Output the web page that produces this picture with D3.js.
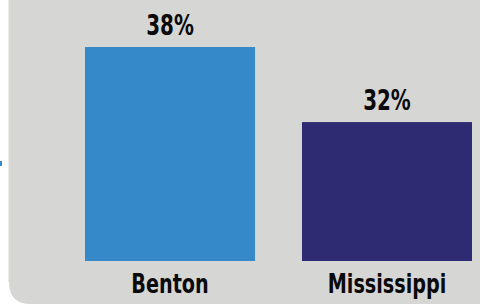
<!DOCTYPE html>
<html>
<head>
<meta charset="utf-8">
<script src="https://cdn.jsdelivr.net/npm/d3@7"></script>
<style>
	body { margin: 0; background: #fff; }
	svg { display: block; }
</style>
</head>
<body>
<div id="chart"></div>
<script>
	//Data
	var categories = ["Benton", "Mississippi"];
	var values = [38, 32];
	var valueLabels = ["38%", "32%"];
	var colors = ["#3589c9", "#2e2b73"];

	//Width and height
	var w = 480;
	var h = 305;
	//Squeeze factor to imitate a condensed bold face
	var squeeze = 0.79;

	var svg = d3.select("#chart")
		.append("svg")
		.attr("width", w)
		.attr("height", h);

	//Grey panel with rounded bottom-left corner
	svg.append("path")
		.attr("d", "M9,-5 H485 V304 H31 Q9,304 9,282 Z")
		.attr("fill", "#d6d6d5");

	svg.append("line")
		.attr("x1", 8.5).attr("x2", 8.5)
		.attr("y1", 0).attr("y2", 282)
		.attr("stroke", "#ececec")
		.attr("stroke-width", 1);

	//Small cut-off marker on the left edge
	svg.append("rect")
		.attr("x", 0).attr("y", 161)
		.attr("width", 2).attr("height", 5)
		.attr("fill", "#3589c9");

	//Scales
	var xScale = d3.scaleBand()
		.domain(categories)
		.range([85, 472])
		.paddingInner(0.2165)
		.paddingOuter(0);

	var yScale = d3.scaleLinear()
		.domain([20.9, 38])
		.range([261, 47]);

	var data = categories.map(function (c, i) {
		return { name: c, value: values[i], label: valueLabels[i], color: colors[i] };
	});

	//Bars
	svg.selectAll("rect.bar")
		.data(data)
		.enter()
		.append("rect")
		.attr("class", "bar")
		.attr("x", function (d) { return xScale(d.name); })
		.attr("y", function (d) { return yScale(d.value); })
		.attr("width", xScale.bandwidth())
		.attr("height", function (d) { return yScale.range()[0] - yScale(d.value); })
		.attr("fill", function (d) { return d.color; });

	var font = "'Liberation Sans Narrow', 'DejaVu Sans Condensed', sans-serif";

	function condense(sel) {
		sel.each(function () {
			var len = this.getComputedTextLength();
			d3.select(this)
				.attr("textLength", len * squeeze)
				.attr("lengthAdjust", "spacingAndGlyphs");
		});
	}

	//Value labels
	svg.selectAll("text.val")
		.data(data)
		.enter()
		.append("text")
		.attr("class", "val")
		.attr("text-anchor", "middle")
		.attr("x", function (d) { return xScale(d.name) + xScale.bandwidth() / 2; })
		.attr("y", function (d) { return yScale(d.value) - 12; })
		.attr("font-family", font)
		.attr("font-weight", "bold")
		.attr("font-size", "28px")
		.attr("fill", "#0a0a0a")
		.text(function (d) { return d.label; })
		.call(condense);

	//Category labels
	svg.selectAll("text.cat")
		.data(data)
		.enter()
		.append("text")
		.attr("class", "cat")
		.attr("text-anchor", "middle")
		.attr("x", function (d) { return xScale(d.name) + xScale.bandwidth() / 2; })
		.attr("y", 293)
		.attr("font-family", font)
		.attr("font-weight", "bold")
		.attr("font-size", "27px")
		.attr("fill", "#0a0a0a")
		.text(function (d) { return d.name; })
		.call(condense);
</script>
</body>
</html>
